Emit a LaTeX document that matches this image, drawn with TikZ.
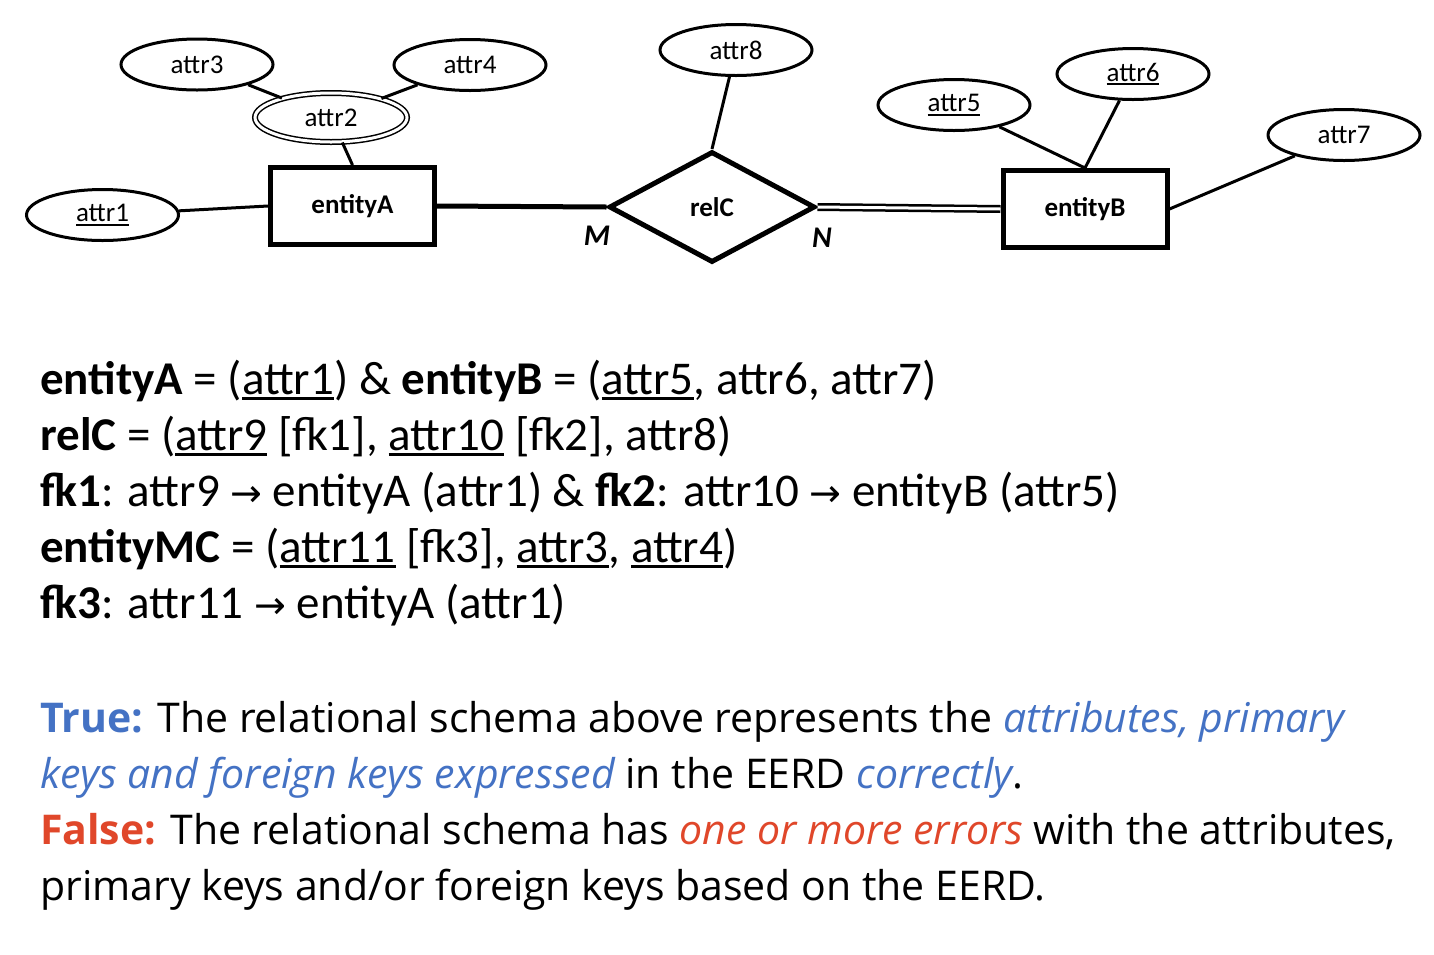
\documentclass[tikz,border=0pt]{standalone}
\usepackage{fontspec}
\setmainfont{Carlito}
\newfontfamily\osans{Open Sans}
\newfontfamily\arrowf{DejaVu Sans}
\usetikzlibrary{shapes.geometric}
\definecolor{tblue}{HTML}{4472C4}
\definecolor{fred}{HTML}{E0472A}
\newsavebox\ulbox
\newcommand\myul[1]{\sbox\ulbox{#1}\rlap{\rule[-0.12em]{\wd\ulbox}{0.065em}}\usebox\ulbox}
\newcommand\dul[1]{\sbox\ulbox{#1}\rlap{\rule[-0.15em]{\wd\ulbox}{0.08em}}\usebox\ulbox}
\newcommand\arr{{\arrowf\fontsize{38}{38}\selectfont →}}
\begin{document}
\begin{tikzpicture}[x=1pt,y=-1pt,
  attr/.style={ellipse, draw, line width=3pt, minimum width=152pt, minimum height=51pt, inner sep=0pt, font=\fontsize{27}{27}\selectfont},
  mattr/.style={ellipse, draw, double, double distance=3pt, line width=1.5pt, minimum width=152pt, minimum height=49pt, inner sep=0pt, font=\fontsize{27}{27}\selectfont},
  ent/.style={rectangle, draw, line width=5pt, minimum width=164pt, minimum height=77pt, font=\bfseries\fontsize{27}{27}\selectfont},
  rel/.style={diamond, draw, line width=5pt, minimum width=206pt, minimum height=111pt, inner sep=0pt, font=\bfseries\fontsize{27}{27}\selectfont},
  conn/.style={line width=3pt},
  card/.style={font=\bfseries\itshape\fontsize{30}{30}\selectfont},
  schema/.style={anchor=base west, inner sep=0pt, font=\fontsize{47}{47}\selectfont},
  para/.style={anchor=base west, inner sep=0pt, font=\osans\fontsize{41}{41}\selectfont}]
\useasboundingbox[fill=white] (0,0) rectangle (1434,954);

% entities and relationship
\node[ent] (eA) at (352.5,206) {entityA};
\node[ent] (eB) at (1085,209) {entityB};
\node[rel] (relC) at (712,207) {relC};

% attributes
\node[attr] (a1) at (102.5,215) {\dul{attr1}};
\node[mattr] (a2) at (331,117.5) {attr2};
\node[attr] (a3) at (197,64.5) {attr3};
\node[attr] (a4) at (470,65) {attr4};
\node[attr] (a8) at (736,50) {attr8};
\node[attr] (a5) at (954,105) {\dul{attr5}};
\node[attr] (a6) at (1133,74) {\dul{attr6}};
\node[attr] (a7) at (1344,135) {attr7};

% connectors
\draw[conn] (a1) -- (eA.west);
\draw[conn] (a2) -- (eA.north);
\draw[conn] (a3) -- (a2);
\draw[conn] (a4) -- (a2);
\draw[conn] (a8) -- (relC.north);
\draw[conn] (a5) -- (eB.north);
\draw[conn] (a6) -- (eB.north);
\draw[conn] (eB.east) -- (a7);
\draw[line width=5pt] (eA.east) -- (relC.west);
\draw[double, double distance=3pt, line width=2.5pt] (relC.east) -- (eB.west);

% cardinalities
\node[card] (cM) at (597,236) {M};
\node[card] (cN) at (822,238) {N};

% relational schema
\node[schema] (t1) at (40,394) {\textbf{entityA} = (\myul{attr1}) \& \textbf{entityB} = (\myul{attr5}, attr6, attr7)};
\node[schema] (t2) at (40,450) {\textbf{relC} = (\myul{attr9} [fk1], \myul{attr10} [fk2], attr8)};
\node[schema] (t3) at (40,506) {\textbf{fk1}: attr9 \arr{} entityA (attr1) \& \textbf{fk2}: attr10 \arr{} entityB (attr5)};
\node[schema] (t4) at (40,562) {\textbf{entityMC} = (\myul{attr11} [fk3], \myul{attr3}, \myul{attr4})};
\node[schema] (t5) at (40,618) {\textbf{fk3}: attr11 \arr{} entityA (attr1)};

% statements
\node[para] (b1) at (40,732) {\textbf{\color{tblue}True:} The relational schema above represents the \textit{\color{tblue}attributes, primary}};
\node[para] (b2) at (40,788) {\textit{\color{tblue}keys and foreign keys expressed} in the EERD \textit{\color{tblue}correctly}.};
\node[para] (b3) at (40,844) {\textbf{\color{fred}False:} The relational schema has \textit{\color{fred}one or more errors} with the attributes,};
\node[para] (b4) at (40,900) {primary keys and/or foreign keys based on the EERD.};
\end{tikzpicture}
\end{document}
